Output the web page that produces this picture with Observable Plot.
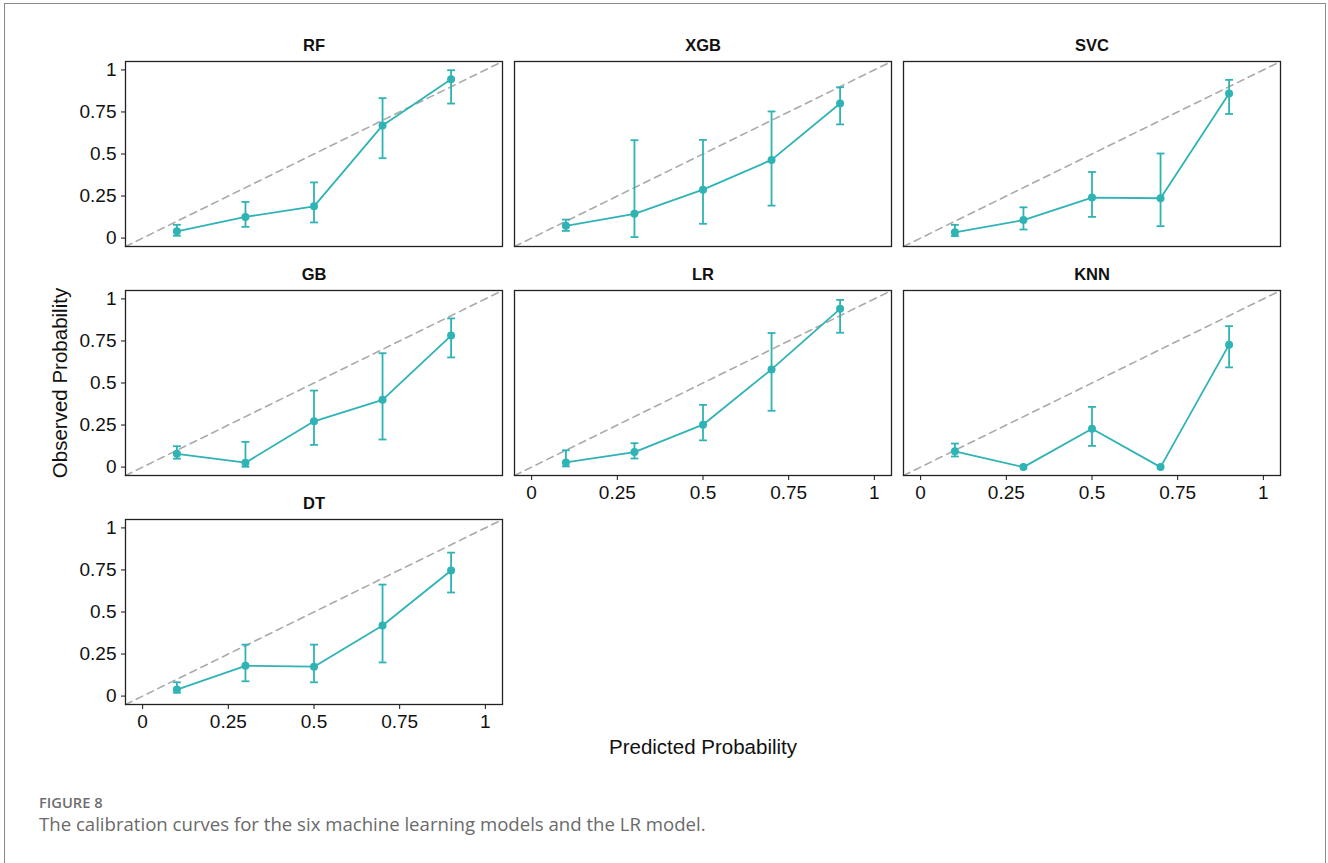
<!DOCTYPE html>
<html>
<head>
<meta charset="utf-8">
<script src="https://cdn.jsdelivr.net/npm/d3@7"></script>
<script src="https://cdn.jsdelivr.net/npm/@observablehq/plot@0.6"></script>
<style>
  html, body { margin: 0; padding: 0; background: #fff; overflow: hidden; }
  #page { position: relative; width: 1328px; height: 863px; overflow: hidden; font-family: "Liberation Sans", Arial, sans-serif; }
  #border { position: absolute; left: 4px; top: 3px; width: 1322px; height: 900px; border: 1px solid #8a8a8a; box-sizing: border-box; }
  .panel { position: absolute; }
  #xlab { position: absolute; left: 0; width: 1406px; top: 735px; text-align: center; font-size: 20.5px; color: #111; }
  #ylab { position: absolute; left: 60px; top: 383px; transform: translate(-50%, -50%) rotate(-90deg); font-size: 20.5px; color: #111; white-space: nowrap; }
  #figno { position: absolute; left: 39px; top: 792px; font-family: "Open Sans", "Noto Sans", sans-serif; font-size: 14.7px; font-weight: 600; color: #6e6e6e; }
  #cap { position: absolute; left: 39px; top: 811px; font-family: "Open Sans", "Noto Sans", sans-serif; font-size: 18.6px; color: #6a6a6a; white-space: nowrap; }
</style>
</head>
<body>
<div id="page">
  <div id="border"></div>
  <div id="xlab">Predicted Probability</div>
  <div id="ylab">Observed Probability</div>
  <div id="figno">FIGURE 8</div>
  <div id="cap">The calibration curves for the six machine learning models and the LR model.</div>
</div>
<script>
// ---- data ----
const models = ["RF", "XGB", "SVC", "GB", "LR", "KNN", "DT"];
const predicted = [0.1, 0.3, 0.5, 0.7, 0.9];
// observed probability per model (same order as models)
const observed = [
  [0.040, 0.126, 0.189, 0.670, 0.945],
  [0.073, 0.144, 0.288, 0.465, 0.800],
  [0.034, 0.107, 0.241, 0.237, 0.860],
  [0.079, 0.026, 0.272, 0.400, 0.782],
  [0.028, 0.089, 0.252, 0.581, 0.941],
  [0.094, 0.000, 0.228, 0.000, 0.728],
  [0.039, 0.180, 0.175, 0.420, 0.747]
];
const lower = [
  [0.014, 0.067, 0.093, 0.475, 0.800],
  [0.043, 0.006, 0.085, 0.193, 0.676],
  [0.012, 0.051, 0.126, 0.071, 0.738],
  [0.050, 0.002, 0.132, 0.164, 0.652],
  [0.004, 0.051, 0.159, 0.335, 0.799],
  [0.063, null, 0.126, null, 0.593],
  [0.020, 0.088, 0.082, 0.200, 0.616]
];
const upper = [
  [0.079, 0.215, 0.331, 0.832, 0.998],
  [0.110, 0.582, 0.584, 0.753, 0.897],
  [0.079, 0.183, 0.393, 0.503, 0.941],
  [0.124, 0.150, 0.455, 0.677, 0.884],
  [0.100, 0.142, 0.370, 0.797, 0.994],
  [0.140, null, 0.358, null, 0.838],
  [0.082, 0.306, 0.306, 0.663, 0.853]
];
const axisTicks = [0, 0.25, 0.5, 0.75, 1];
const axisDomain = [-0.05, 1.05];
const xAxisPanels = ["LR", "KNN", "DT"];
const yAxisPanels = ["RF", "GB", "DT"];

// ---- layout ----
const colLeft = [125, 514, 903];
const rowTop = [61, 290, 518.5];
const PW = 377, PH = 185;
const ML = 80, MR = 10, MT = 35, MB = 45;
const teal = "#2fb3b4";
const capHalf = 0.0115;
const fmt = d => String(d);

const page = document.getElementById("page");

models.forEach((name, i) => {
  const col = i % 3, row = Math.floor(i / 3);
  const rows = predicted.map((p, j) => ({x: p, y: observed[i][j], lo: lower[i][j], hi: upper[i][j]}));
  const errs = rows.filter(d => d.lo != null && d.hi != null);
  const showX = xAxisPanels.includes(name);
  const showY = yAxisPanels.includes(name);
  const chart = Plot.plot({
    width: PW + ML + MR,
    height: PH + MT + MB,
    marginLeft: ML, marginRight: MR, marginTop: MT, marginBottom: MB,
    style: {background: "transparent", overflow: "visible", fontFamily: "'Liberation Sans', Arial, sans-serif", fontSize: "19px", color: "#111"},
    x: {domain: axisDomain, ticks: axisTicks, tickFormat: fmt, tickSize: 5, tickPadding: 5, label: null, axis: showX ? "bottom" : null},
    y: {domain: axisDomain, ticks: axisTicks, tickFormat: fmt, tickSize: 4, tickPadding: 5, label: null, axis: showY ? "left" : null},
    marks: [
      Plot.line(axisDomain, {x: d => d, y: d => d, stroke: "#aaaaaa", strokeWidth: 1.6, strokeDasharray: "7,5"}),
      Plot.ruleX(errs, {x: "x", y1: "lo", y2: "hi", stroke: teal, strokeWidth: 1.8}),
      Plot.link(errs, {x1: d => d.x - capHalf, x2: d => d.x + capHalf, y1: "lo", y2: "lo", stroke: teal, strokeWidth: 1.8}),
      Plot.link(errs, {x1: d => d.x - capHalf, x2: d => d.x + capHalf, y1: "hi", y2: "hi", stroke: teal, strokeWidth: 1.8}),
      Plot.line(rows, {x: "x", y: "y", stroke: teal, strokeWidth: 1.8}),
      Plot.dot(rows, {x: "x", y: "y", r: 4, fill: teal}),
      Plot.frame({stroke: "#222", strokeWidth: 1.3}),
      Plot.text([name], {frameAnchor: "top", lineAnchor: "middle", dy: -16, text: d => d, fontWeight: "bold", fontSize: 16.5, fill: "#111"})
    ]
  });
  chart.classList.add("panel");
  chart.style.left = (colLeft[col] - ML) + "px";
  chart.style.top = (rowTop[row] - MT) + "px";
  page.appendChild(chart);
});
</script>
</body>
</html>
